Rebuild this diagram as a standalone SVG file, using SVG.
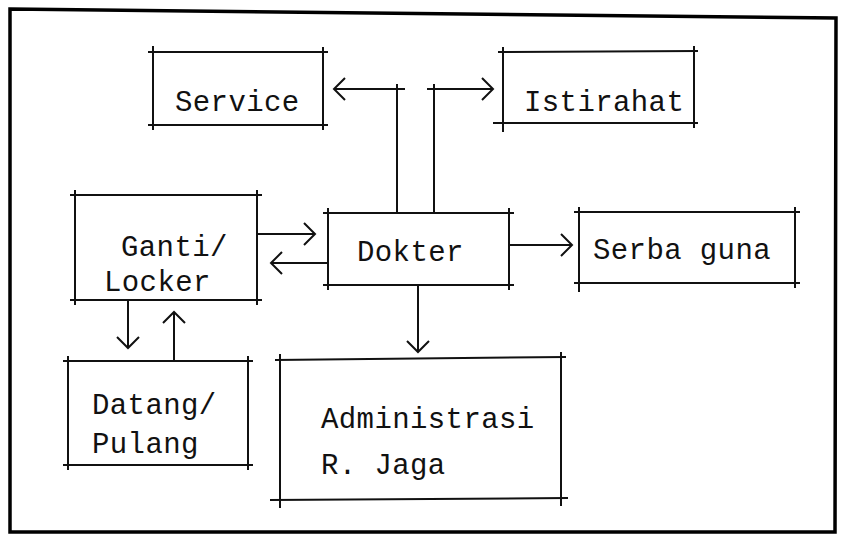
<svg xmlns="http://www.w3.org/2000/svg" width="841" height="540" viewBox="0 0 841 540">
<style>
.frame{fill:none;stroke:#000;stroke-width:3.5;stroke-linejoin:miter}
.box line{stroke:#111;stroke-width:2}
.lbl{font-family:"Liberation Mono","DejaVu Sans Mono",monospace;font-size:29px;letter-spacing:0.4px;fill:#111}
.conn line,.conn polyline{stroke:#111;stroke-width:2;fill:none}
</style>
<defs>
<marker id="ah" markerUnits="userSpaceOnUse" markerWidth="30" markerHeight="30" viewBox="-15 -15 30 30" refX="0" refY="0" orient="auto">
<path d="M -11 -11 L 0 0 L -11 11" fill="none" stroke="#111" stroke-width="2"/>
</marker>
</defs>
<rect width="841" height="540" fill="#fff"/>
<polygon class="frame" points="10,9 836,18 835,532 10,532"/>

<g id="service" class="box">
<line x1="148" y1="52" x2="328" y2="52"/><line x1="148" y1="125" x2="328" y2="125"/>
<line x1="153" y1="46" x2="153" y2="130"/><line x1="323" y1="47" x2="323" y2="130"/>
<text class="lbl" x="175" y="111">Service</text>
</g>
<g id="istirahat" class="box">
<line x1="498" y1="52" x2="698" y2="51"/><line x1="493" y1="123" x2="698" y2="123"/>
<line x1="503" y1="47" x2="503" y2="132"/><line x1="694" y1="46" x2="694" y2="128"/>
<text class="lbl" x="524" y="111">Istirahat</text>
</g>
<g id="ganti" class="box">
<line x1="70" y1="195" x2="262" y2="195"/><line x1="70" y1="300" x2="262" y2="300"/>
<line x1="75" y1="190" x2="75" y2="305"/><line x1="257" y1="190" x2="257" y2="305"/>
<text class="lbl" x="121" y="256">Ganti/</text>
<text class="lbl" x="104" y="291">Locker</text>
</g>
<g id="dokter" class="box">
<line x1="323" y1="213" x2="514" y2="213"/><line x1="323" y1="285" x2="514" y2="285"/>
<line x1="328" y1="208" x2="328" y2="290"/><line x1="509" y1="208" x2="509" y2="290"/>
<text class="lbl" x="357" y="261">Dokter</text>
</g>
<g id="serbaguna" class="box">
<line x1="574" y1="212" x2="800" y2="212"/><line x1="574" y1="283" x2="800" y2="283"/>
<line x1="579" y1="207" x2="579" y2="292"/><line x1="795" y1="207" x2="795" y2="288"/>
<text class="lbl" x="593" y="259">Serba guna</text>
</g>
<g id="datang" class="box">
<line x1="63" y1="361" x2="253" y2="361"/><line x1="63" y1="465" x2="253" y2="465"/>
<line x1="68" y1="356" x2="68" y2="470"/><line x1="248" y1="356" x2="248" y2="470"/>
<text class="lbl" x="92" y="414">Datang/</text>
<text class="lbl" x="92" y="453">Pulang</text>
</g>
<g id="administrasi" class="box">
<line x1="275" y1="360" x2="566" y2="357"/><line x1="270" y1="500" x2="568" y2="498"/>
<line x1="280" y1="354" x2="280" y2="508"/><line x1="561" y1="352" x2="561" y2="506"/>
<text class="lbl" x="321" y="428">Administrasi</text>
<text class="lbl" x="321" y="474">R. Jaga</text>
</g>

<g id="connectors" class="conn">
<line x1="397" y1="84" x2="397" y2="213"/>
<line x1="405" y1="89" x2="334" y2="89" marker-end="url(#ah)"/>
<line x1="434" y1="84" x2="434" y2="213"/>
<line x1="427" y1="89" x2="493" y2="89" marker-end="url(#ah)"/>
<line x1="257" y1="234" x2="315" y2="234" marker-end="url(#ah)"/>
<line x1="328" y1="263" x2="271" y2="263" marker-end="url(#ah)"/>
<line x1="509" y1="245" x2="572" y2="245" marker-end="url(#ah)"/>
<line x1="418" y1="285" x2="418" y2="352" marker-end="url(#ah)"/>
<line x1="128" y1="300" x2="128" y2="348" marker-end="url(#ah)"/>
<line x1="174" y1="361" x2="174" y2="312" marker-end="url(#ah)"/>
</g>
</svg>
